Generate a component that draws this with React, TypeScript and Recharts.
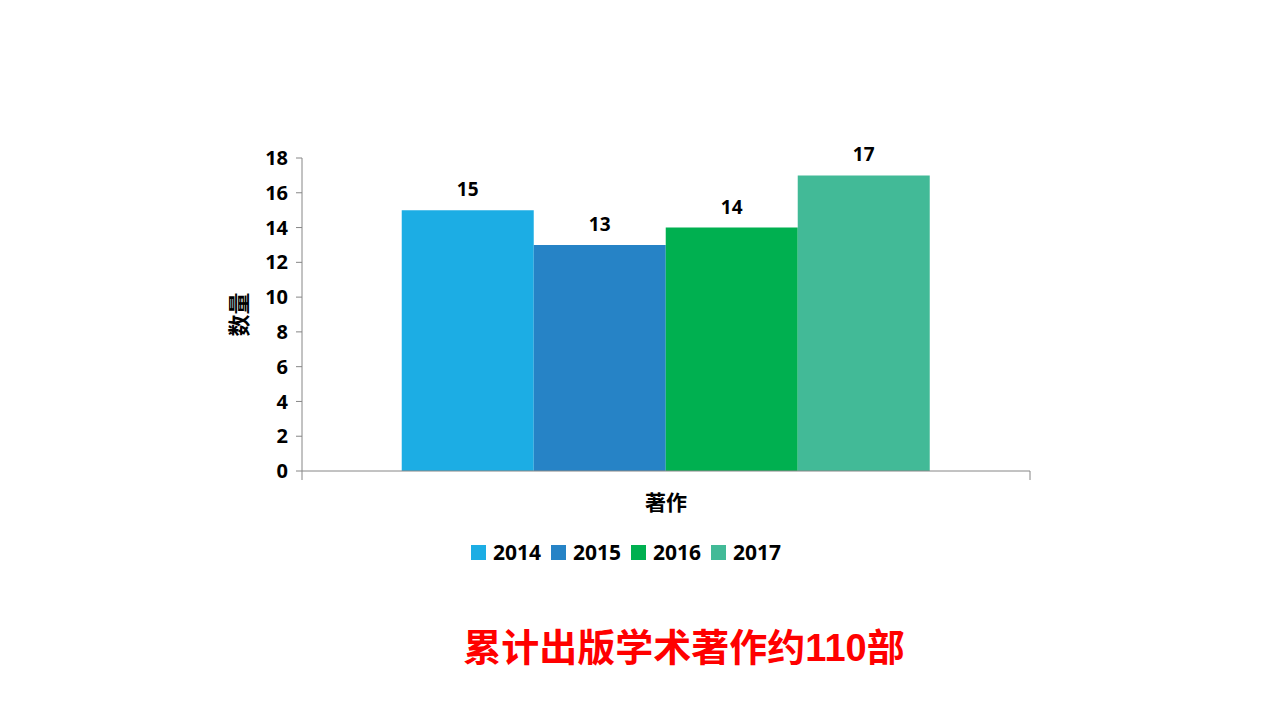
import { Bar, BarChart, LabelList, Legend, XAxis, YAxis } from 'recharts';

// Values: one category, four yearly series.
const CATEGORIES = ['著作'];
const YEARS = ['2014', '2015', '2016', '2017'];
const VALUES = [15, 13, 14, 17];
const Y_TICKS = [0, 2, 4, 6, 8, 10, 12, 14, 16, 18];

const COLORS = ['#1CADE4', '#2683C6', '#00B050', '#42BA97'];
const AXIS_COLOR = '#868686';
const FONT = "'Open Sans', 'Noto Sans CJK SC', sans-serif";

const data = CATEGORIES.map((name) => {
  const row: Record<string, string | number> = { name };
  YEARS.forEach((y, i) => {
    row[y] = VALUES[i];
  });
  return row;
});

function LegendContent() {
  return (
    <div style={{ display: 'flex', alignItems: 'center', fontSize: 21, fontWeight: 700, color: '#000' }}>
      {YEARS.map((y, i) => (
        <div key={y} style={{ display: 'flex', alignItems: 'center', marginRight: 10 }}>
          <span style={{ width: 15, height: 15, background: COLORS[i], marginRight: 7, display: 'inline-block' }} />
          <span style={{ lineHeight: '22px' }}>{y}</span>
        </div>
      ))}
    </div>
  );
}

// Office-style category tick: marks sit on the band edges, the name sits below the band centre
function CategoryTick(props: any) {
  const { x, y, payload, width } = props;
  const half = payload && payload.offset > 0 ? payload.offset : width / 2;
  return (
    <g>
      <line x1={x - half} x2={x - half} y1={y} y2={y + 9} stroke={AXIS_COLOR} />
      <line x1={x + half} x2={x + half} y1={y} y2={y + 9} stroke={AXIS_COLOR} />
      <text x={x} y={y + 31} textAnchor="middle" dominantBaseline="central" fontSize={21} fontWeight={700} fill="#000">
        {payload.value}
      </text>
    </g>
  );
}

export default function App() {
  return (
    <div style={{ position: 'absolute', left: 0, top: 0, width: 1280, height: 720, background: '#fff', fontFamily: FONT, fontWeight: 700 }}>
      <BarChart
        width={1280}
        height={720}
        data={data}
        margin={{ top: 158, right: 250, left: 222, bottom: 189 }}
        barCategoryGap="13.7%"
        barGap={0}
      >
        <XAxis
          dataKey="name"
          height={60}
          tickSize={0}
          tickMargin={0}
          tickLine={false}
          axisLine={{ stroke: AXIS_COLOR }}
          tick={CategoryTick}
        />
        <YAxis
          width={80}
          domain={[0, 18]}
          ticks={Y_TICKS}
          interval={0}
          tickSize={6}
          tickMargin={8}
          axisLine={{ stroke: AXIS_COLOR }}
          tickLine={{ stroke: AXIS_COLOR }}
          tick={{ fill: '#000', fontSize: 20, fontWeight: 700 }}
          label={{
            content: ({ viewBox }: any) => {
              const cx = viewBox.x + 16;
              const cy = viewBox.y + viewBox.height / 2;
              return (
                <text x={cx} y={cy} transform={`rotate(-90 ${cx} ${cy})`} textAnchor="middle" dominantBaseline="central" fontSize={22} fontWeight={700} fill="#000">
                  数量
                </text>
              );
            },
          }}
        />
        <Legend
          layout="horizontal"
          verticalAlign="middle"
          align="center"
          content={<LegendContent />}
          wrapperStyle={{ top: 541, left: 471, width: 'auto' }}
        />
        {YEARS.map((y, i) => (
          <Bar key={y} dataKey={y} fill={COLORS[i]} isAnimationActive={false}>
            <LabelList dataKey={y} position="top" offset={14} fill="#000" fontSize={19} fontWeight={700} />
          </Bar>
        ))}
      </BarChart>
      <div
        style={{
          position: 'absolute',
          left: 0,
          width: 1368,
          top: 628,
          textAlign: 'center',
          color: '#FF0000',
          fontSize: 38,
          lineHeight: '40px',
          fontWeight: 700,
          fontFamily: "'Liberation Sans', 'Noto Sans CJK SC', sans-serif",
        }}
      >
        累计出版学术著作约110部
      </div>
    </div>
  );
}
